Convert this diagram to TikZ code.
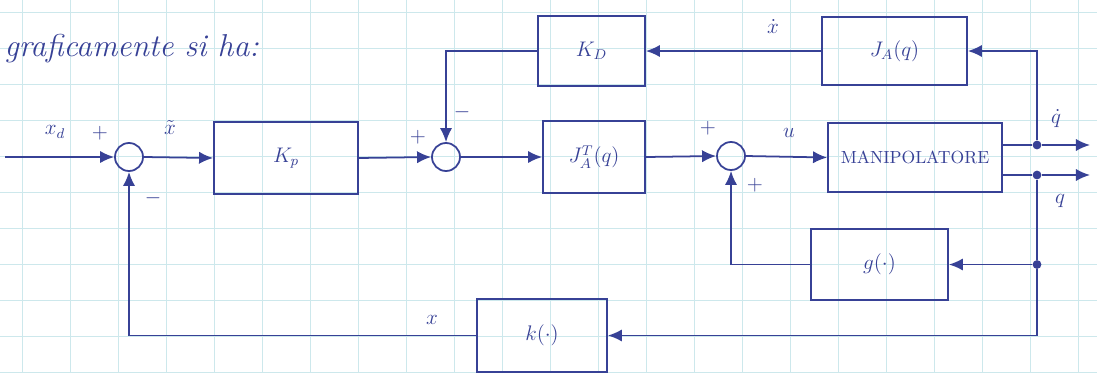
\documentclass[tikz,border=0pt]{standalone}
\usetikzlibrary{arrows.meta}
\definecolor{ink}{RGB}{55,65,150}
\definecolor{paper}{RGB}{205,232,236}

\begin{document}
\begin{tikzpicture}[
    >={Latex[length=8pt,width=7pt]},
    block/.style={rectangle, draw=ink, line width=1pt, align=center, font=\large, text=ink},
    sum/.style={circle, draw=ink, line width=1pt, minimum size=0.56cm, inner sep=0pt},
    dot/.style={circle, fill=ink, inner sep=0pt, minimum size=5pt},
    lbl/.style={font=\large, text=ink, inner sep=1pt},
    wire/.style={draw=ink, line width=1pt}
]

% Sheet
\clip (0, 0) rectangle (21.94, -7.44);
\fill[white] (0, 0) rectangle (21.94, -7.44);
\draw[paper, xstep=0.96, ystep=0.72, shift={(0.44, -0.24)}] (-1, 1) grid (22, -8);

\node[lbl, anchor=west, font=\fontsize{18}{21}\selectfont\itshape] (title) at (0.05, -0.98) {graficamente si ha:};

% Summing junctions
\node[sum] (s1) at (2.58, -3.14) {};
\node[sum] (s2) at (8.92, -3.14) {};
\node[sum] (s3) at (14.62, -3.12) {};

% Blocks
\node[block, minimum width=2.88cm, minimum height=1.44cm] (kp) at (5.72, -3.16) {$K_p$};
\node[block, minimum width=2.14cm, minimum height=1.40cm] (kd) at (11.83, -1.02) {$K_D$};
\node[block, minimum width=2.04cm, minimum height=1.44cm] (jat) at (11.88, -3.14) {$J_A^T(q)$};
\node[block, minimum width=2.90cm, minimum height=1.36cm] (ja) at (17.89, -1.02) {$J_A(q)$};
\node[block, minimum width=3.48cm, minimum height=1.38cm, font=\normalsize] (man) at (18.30, -3.15) {MANIPOLATORE};
\node[block, minimum width=2.74cm, minimum height=1.42cm] (g) at (17.59, -5.29) {$g(\cdot)$};
\node[block, minimum width=2.60cm, minimum height=1.46cm] (k) at (10.84, -6.71) {$k(\cdot)$};

% Ends and branch points
\coordinate (in) at (0.1, -3.14);
\coordinate (dqout) at (21.8, -2.90);
\coordinate (qout) at (21.8, -3.50);
\node[dot] (dq) at (20.74, -2.90) {};
\node[dot] (q) at (20.74, -3.50) {};
\node[dot] (qg) at (q |- g.east) {};

% Forward path
\draw[wire, ->] (in) -- (s1.west);
\draw[wire, ->] (s1.east) -- (kp.west);
\draw[wire, ->] (kp.east) -- (s2.west);
\draw[wire, ->] (s2.east) -- (jat.west);
\draw[wire, ->] (jat.east) -- (s3.west);
\draw[wire, ->] (s3.east) -- (man.west);
\draw[wire] (man.east |- dq) -- (dq);
\draw[wire, ->] (dq) -- (dqout);
\draw[wire] (man.east |- q) -- (q);
\draw[wire, ->] (q) -- (qout);

% Feedback paths
\draw[wire, ->] (dq) |- (ja.east);
\draw[wire, ->] (ja.west) -- (kd.east);
\draw[wire, ->] (kd.west) -| (s2.north);
\draw[wire] (q) -- (qg);
\draw[wire, ->] (qg) -- (g.east);
\draw[wire, ->] (qg) |- (k.east);
\draw[wire, ->] (g.west) -| (s3.south);
\draw[wire, ->] (k.west) -| (s1.south);

% Signal labels and signs
\node[lbl] (lxd) at (1.10, -2.64) {$x_d$};
\node[lbl] (p1) at (2.00, -2.66) {$+$};
\node[lbl] (m1) at (3.06, -3.96) {$-$};
\node[lbl] (lxt) at (3.40, -2.54) {$\tilde{x}$};
\node[lbl] (p2) at (8.36, -2.74) {$+$};
\node[lbl] (m2) at (9.24, -2.24) {$-$};
\node[lbl] (lxdot) at (15.46, -0.52) {$\dot{x}$};
\node[lbl] (p3) at (14.16, -2.56) {$+$};
\node[lbl] (p4) at (15.10, -3.70) {$+$};
\node[lbl] (lu) at (15.78, -2.66) {$u$};
\node[lbl] (lqdot) at (21.12, -2.38) {$\dot{q}$};
\node[lbl] (lq) at (21.20, -4.02) {$q$};
\node[lbl] (lx) at (8.64, -6.40) {$x$};

\end{tikzpicture}
\end{document}
